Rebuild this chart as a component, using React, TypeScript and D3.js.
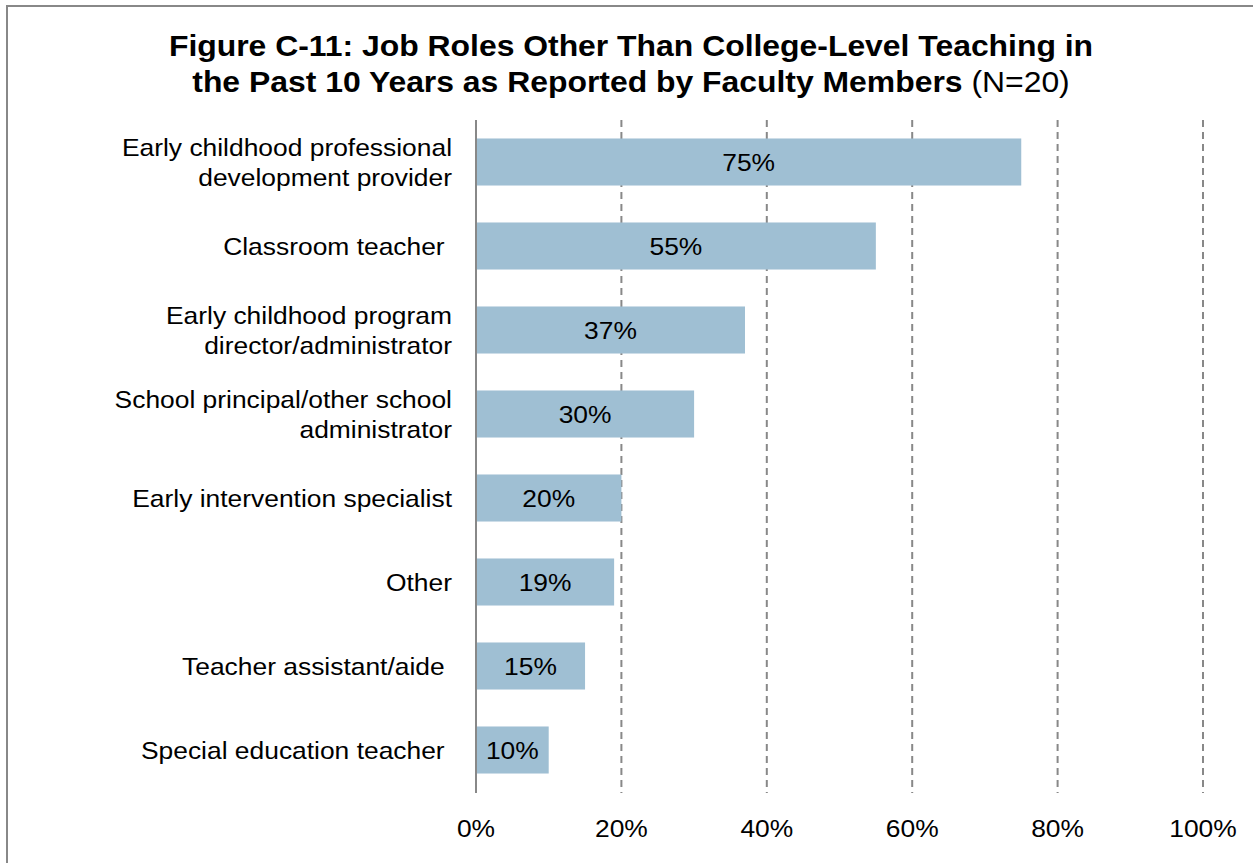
import React from "react";
import * as d3 from "d3";

const categories = [
  "Early childhood professional\ndevelopment provider",
  "Classroom teacher ",
  "Early childhood program\ndirector/administrator",
  "School principal/other school\nadministrator",
  "Early intervention specialist",
  "Other",
  "Teacher assistant/aide ",
  "Special education teacher ",
];
const values = [75, 55, 37, 30, 20, 19, 15, 10];
const ticks = [0, 20, 40, 60, 80, 100];

const SX = 1.1;

function T({ x, y, anchor, size, weight, children }: any) {
  return (
    <g transform={`translate(${x},${y}) scale(${SX},1)`}>
      <text x={0} y={0} textAnchor={anchor} fontSize={size} fontWeight={weight || "normal"} fill="#000" style={{ whiteSpace: "pre" }}>
        {children}
      </text>
    </g>
  );
}

export default function App() {
  const W = 1253, H = 863;
  const x = d3.scaleLinear().domain([0, 100]).range([476, 1203]);
  const y = d3.scaleBand<string>().domain(categories).range([120, 792]).paddingInner(0.44).paddingOuter(0.22);
  const font = "'Liberation Sans', Arial, sans-serif";
  return (
    <svg width={W} height={H} style={{ position: "absolute", left: 0, top: 0 }} fontFamily={font}>
      <rect x={0} y={0} width={W} height={H} fill="#fff" />
      <path d={`M7,${H + 10} V6 H${W + 10}`} fill="none" stroke="#888" strokeWidth={2} />
      <T x={631} y={56} anchor="middle" size={29} weight="bold">Figure C-11: Job Roles Other Than College-Level Teaching in</T>
      <T x={631} y={92} anchor="middle" size={29} weight="bold">the Past 10 Years as Reported by Faculty Members <tspan fontWeight="normal">(N=20)</tspan></T>
      {ticks.filter(t => t > 0).map(t => (
        <line key={t} x1={x(t)} x2={x(t)} y1={120} y2={793} stroke="#888" strokeWidth={2} strokeDasharray="7,5" />
      ))}
      {categories.map((c, i) => {
        const yc = y(c)! + y.bandwidth() / 2;
        const lines = c.split("\n");
        return (
          <g key={c}>
            <rect x={x(0)} y={y(c)} width={x(values[i]) - x(0)} height={y.bandwidth()} fill="#9FBFD3" />
            <T x={(x(0) + x(values[i])) / 2} y={yc + 9} anchor="middle" size={24}>{values[i]}%</T>
            {lines.map((l, j) => (
              <T key={j} x={452} y={yc + 9 + (j - (lines.length - 1) / 2) * 30} anchor="end" size={24}>{l}</T>
            ))}
          </g>
        );
      })}
      <line x1={x(0)} x2={x(0)} y1={120} y2={793} stroke="#888" strokeWidth={2} />
      {ticks.map(t => (
        <T key={t} x={x(t)} y={837} anchor="middle" size={24}>{t}%</T>
      ))}
    </svg>
  );
}
